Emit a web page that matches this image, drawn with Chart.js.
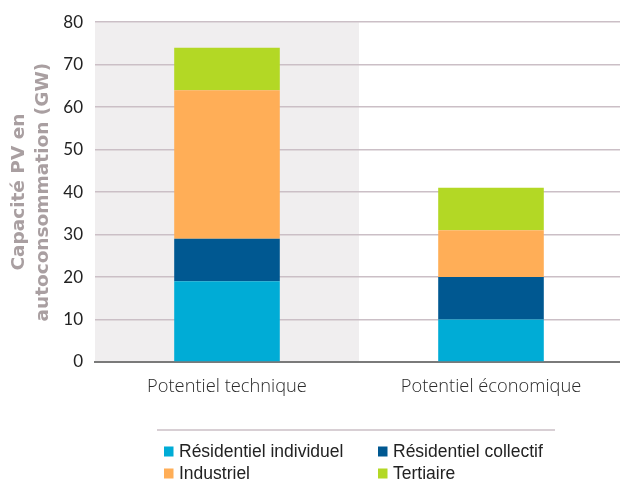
<!DOCTYPE html>
<html lang="fr">
<head>
<meta charset="utf-8">
<title>Capacité PV en autoconsommation</title>
<script src="https://cdn.jsdelivr.net/npm/chart.js@4/dist/chart.umd.min.js"></script>
<style>
  html, body { margin: 0; padding: 0; background: #fff; overflow: hidden; }
  #wrap { width: 623px; height: 489px; }
</style>
</head>
<body>
<div id="wrap"><canvas id="pvChart" width="623" height="489"></canvas></div>
<script>
// DATA
const categories = ["Potentiel technique", "Potentiel économique"];
const residentielIndividuel = [19, 10];
const residentielCollectif = [10, 10];
const industriel = [35, 11];
const tertiaire = [10, 10];
const yMin = 0, yMax = 80, yStep = 10;

const seriesLabels = ["Résidentiel individuel", "Résidentiel collectif", "Industriel", "Tertiaire"];
const seriesColors = ["#00acd6", "#005891", "#ffae57", "#b3d825"];
const seriesValues = [residentielIndividuel, residentielCollectif, industriel, tertiaire];

// grey band behind the first category
const shadeFirst = {
  id: "shadeFirst",
  beforeDraw(chart) {
    const { ctx, chartArea, scales } = chart;
    const mid = (scales.x.getPixelForValue(0) + scales.x.getPixelForValue(1)) / 2;
    ctx.save();
    ctx.fillStyle = "#f0eeef";
    ctx.fillRect(chartArea.left, chartArea.top, mid - chartArea.left, chartArea.bottom - chartArea.top);
    ctx.restore();
  }
};

// legend in two columns under a thin rule
const gridLegend = {
  id: "gridLegend",
  afterDraw(chart) {
    const { ctx } = chart;
    ctx.save();
    ctx.strokeStyle = "#cbbfc6";
    ctx.lineWidth = 1.5;
    ctx.beginPath();
    ctx.moveTo(157, 430);
    ctx.lineTo(555, 430);
    ctx.stroke();

    ctx.font = "17.5px 'Liberation Sans', Arial, sans-serif";
    ctx.textBaseline = "middle";
    const cols = [164, 378];
    const rows = [451.5, 473.5];
    chart.data.datasets.forEach((ds, i) => {
      const x = cols[i % 2];
      const y = rows[Math.floor(i / 2)];
      ctx.fillStyle = ds.backgroundColor;
      ctx.fillRect(x, y - 5, 9.5, 10);
      ctx.fillStyle = "#222";
      ctx.fillText(ds.label, x + 15, y + 0.5);
    });
    ctx.restore();
  }
};

new Chart(document.getElementById("pvChart"), {
  type: "bar",
  data: {
    labels: categories,
    datasets: seriesLabels.map((label, i) => ({
      label: label,
      data: seriesValues[i],
      backgroundColor: seriesColors[i],
      borderWidth: 0,
      categoryPercentage: 1,
      barPercentage: 0.4
    }))
  },
  options: {
    responsive: false,
    animation: false,
    layout: { padding: { top: 12, right: 0, bottom: 89, left: 0 } },
    plugins: {
      legend: { display: false },
      tooltip: { enabled: false }
    },
    scales: {
      x: {
        stacked: true,
        grid: { display: false },
        border: { display: true, color: "#7a7a7a", width: 2 },
        ticks: {
          color: "#2a2a2a",
          padding: 6,
          font: { family: "'Open Sans'", size: 18.3, weight: 300 }
        },
        afterFit(scale) { scale.height = 38; }
      },
      y: {
        stacked: true,
        min: yMin,
        max: yMax,
        ticks: {
          stepSize: yStep,
          color: "#222",
          padding: 12,
          font: { family: "Lato", size: 17 }
        },
        grid: {
          drawTicks: false,
          lineWidth: 1.5,
          color: c => c.tick && c.tick.value === 0 ? "rgba(0,0,0,0)" : "#cbbfc6"
        },
        border: { display: false },
        title: {
          display: true,
          text: ["Capacité PV en", "autoconsommation (GW)"],
          color: "#a99fa1",
          padding: { top: 8, bottom: 0 },
          font: { family: "DejaVu Sans", size: 18.5, weight: "bold", lineHeight: 1.25 }
        },
        afterFit(scale) { scale.width = 95; }
      }
    }
  },
  plugins: [shadeFirst, gridLegend]
});
</script>
</body>
</html>
